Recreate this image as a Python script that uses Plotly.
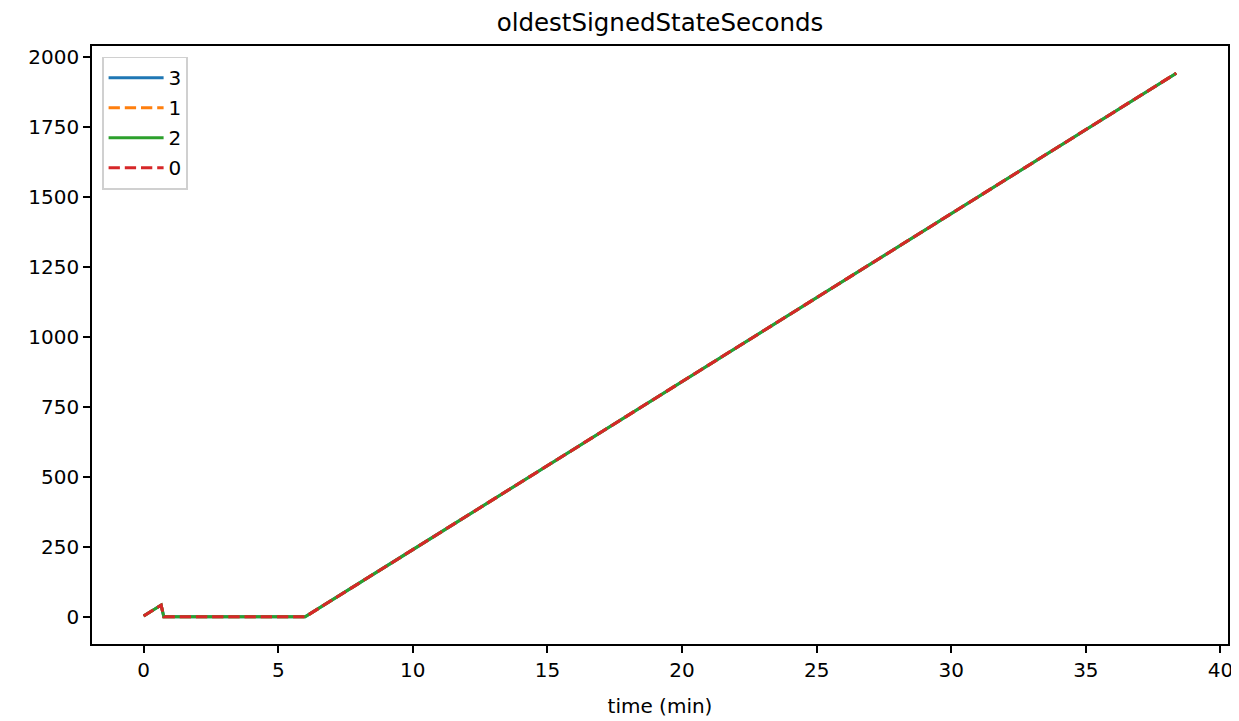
import plotly.graph_objects as go

# time in minutes and value in seconds, per node
time_min = [0.0, 0.65, 0.75, 1.0, 2.0, 3.0, 4.0, 5.0, 6.0, 10.0, 15.0, 20.0, 25.0, 30.0, 35.0, 38.36]
node_3 = [3, 42, 0, 0, 0, 0, 0, 0, 0, 240, 540, 840, 1140, 1440, 1740, 1942]
node_1 = [3, 42, 0, 0, 0, 0, 0, 0, 0, 240, 540, 840, 1140, 1440, 1740, 1942]
node_2 = [3, 42, 0, 0, 0, 0, 0, 0, 0, 240, 540, 840, 1140, 1440, 1740, 1942]
node_0 = [3, 42, 0, 0, 0, 0, 0, 0, 0, 240, 540, 840, 1140, 1440, 1740, 1942]

series_names = ["3", "1", "2", "0"]
series_values = [node_3, node_1, node_2, node_0]
series_colors = ["#1f77b4", "#ff7f0e", "#2ca02c", "#d62728"]
series_dash = ["solid", "11.3px,4.9px", "solid", "11.3px,4.9px"]

x_ticks = [0, 5, 10, 15, 20, 25, 30, 35, 40]
y_ticks = [0, 250, 500, 750, 1000, 1250, 1500, 1750, 2000]

fig = go.Figure()
for name, vals, col, dash in zip(series_names, series_values, series_colors, series_dash):
    fig.add_trace(go.Scatter(
        x=time_min, y=vals, mode="lines", name=name, legendgroup=name,
        line=dict(color=col, width=3, dash=dash),
    ))

font_family = "DejaVu Sans, sans-serif"
fig.update_layout(
    width=1231, height=713,
    margin=dict(l=84, r=11, t=38, b=77, pad=0, autoexpand=False),
    paper_bgcolor="white", plot_bgcolor="white",
    font=dict(family=font_family, size=20, color="black"),
    title=dict(text="oldestSignedStateSeconds", x=0.5, xref="paper", xanchor="center",
               y=1 - 14 / 713, yref="container", yanchor="middle", font=dict(size=24.5)),
    showlegend=True,
    legend=dict(x=0.0088, y=0.9823, xanchor="left", yanchor="top",
                bgcolor="rgba(255,255,255,0.8)", bordercolor="#d0d0d0", borderwidth=1.6,
                font=dict(size=20), tracegroupgap=1, itemwidth=55),
)
fig.update_xaxes(
    range=[-1.918, 40.28], tickvals=x_ticks, ticks="outside", ticklen=7, tickwidth=1.6,
    tickcolor="black", showline=True, linecolor="black", linewidth=1.6, mirror=True,
    showgrid=False, zeroline=False, automargin=False,
    title=dict(text="time (min)", font=dict(size=20), standoff=18),
)
fig.update_yaxes(
    range=[-97.1, 2039.1], tickvals=y_ticks, ticks="outside", ticklen=7, tickwidth=1.6,
    tickcolor="black", showline=True, linecolor="black", linewidth=1.6, mirror=True,
    showgrid=False, zeroline=False, automargin=False,
)

fig.write_html("out.html")
